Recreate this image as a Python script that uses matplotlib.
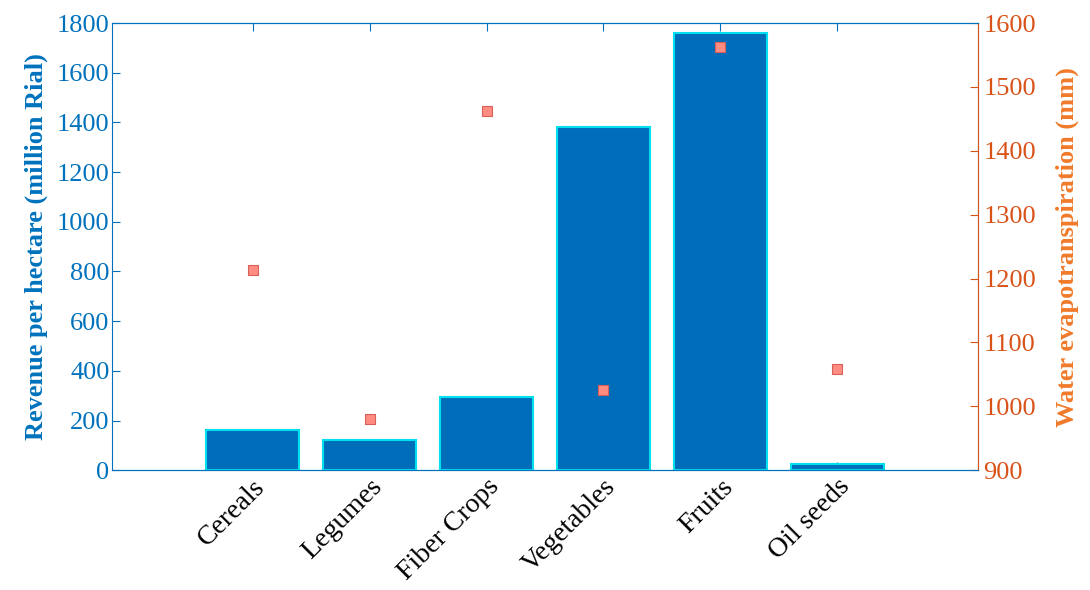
import matplotlib
matplotlib.use('Agg')
import matplotlib.pyplot as plt

# crop groups and values
crops = ['Cereals', 'Legumes', 'Fiber Crops', 'Vegetables', 'Fruits', 'Oil seeds']
revenue = [160, 122, 295, 1382, 1760, 25]
water = [1213, 980, 1463, 1025, 1563, 1058]

blue = '#0072BD'
orange = '#D95319'

plt.rcParams['font.family'] = ['Liberation Serif', 'DejaVu Serif']

fig = plt.figure(figsize=(10.9, 5.9), dpi=100)
ax = fig.add_axes([0.103, 0.203, 0.794, 0.758])
pos = list(range(1, len(crops) + 1))

ax.bar(pos, revenue, width=0.8, color='#006DBB', edgecolor='#00E0EE', linewidth=1.5, zorder=2)
ax.set_xlim(-0.2, 7.2)
ax.set_ylim(0, 1800)
ax.set_yticks(range(0, 1801, 200))
ax.set_xticks(pos)
ax.set_xticklabels(crops, rotation=45, ha='right', rotation_mode='anchor', fontsize=20)
ax.tick_params(axis='y', colors=blue, labelsize=19, direction='in', length=6, pad=2)
ax.tick_params(axis='x', direction='in', length=6, top=True, color=blue, pad=3)
ax.set_ylabel('Revenue per hectare (million Rial)', color=blue, fontsize=19, fontweight='bold', labelpad=6)
for s in ax.spines.values():
    s.set_color(blue)

ax2 = ax.twinx()
ax2.scatter(pos, water, marker='s', s=60, color='#FF8C80', edgecolor='#D9605A', linewidth=0.8, zorder=3)
ax2.set_ylim(900, 1600)
ax2.set_yticks(range(900, 1601, 100))
ax2.tick_params(axis='y', colors=orange, labelsize=19, direction='in', length=6, pad=4)
ax2.set_ylabel('Water evapotranspiration (mm)', color='#F07A2A', fontsize=19, fontweight='bold', labelpad=14)
ax2.spines['right'].set_color(orange)
ax2.spines['left'].set_visible(False)
ax2.spines['top'].set_color(blue)
ax2.spines['bottom'].set_color(blue)

fig.savefig('out.png', dpi=100)
